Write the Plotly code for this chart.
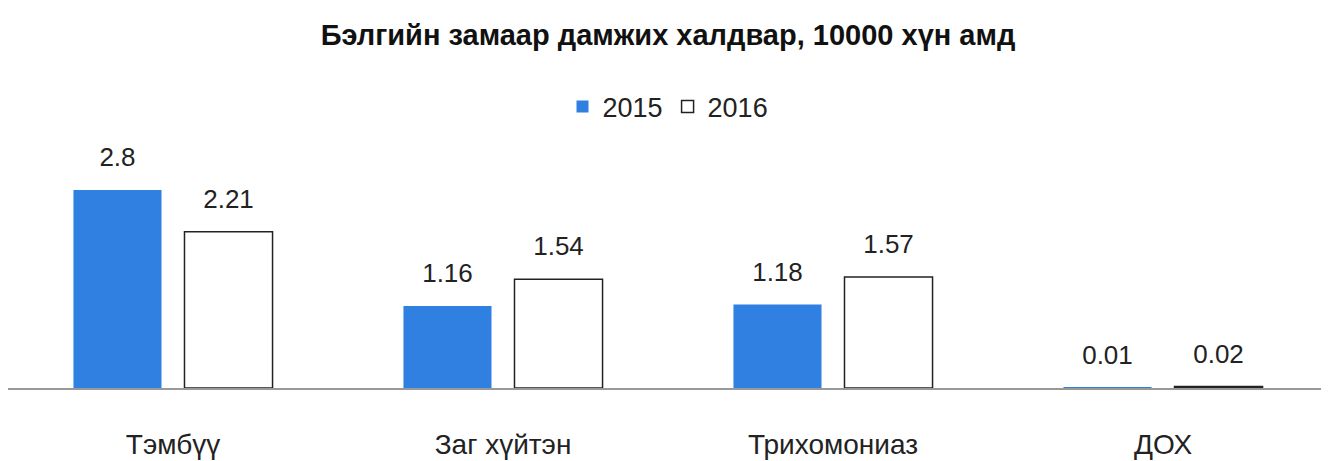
import plotly.graph_objects as go

categories = ["Тэмбүү", "Заг хүйтэн", "Трихомониаз", "ДОХ"]
years = ["2015", "2016"]
values_2015 = [2.8, 1.16, 1.18, 0.01]
values_2016 = [2.21, 1.54, 1.57, 0.02]

font_family = "Liberation Sans, Arial, sans-serif"

fig = go.Figure()
fig.add_trace(
    go.Bar(
        x=categories,
        y=values_2015,
        name=years[0],
        marker=dict(color="#2F80E0", line=dict(color="#2F80E0", width=0)),
    )
)
fig.add_trace(
    go.Bar(
        x=categories,
        y=values_2016,
        name=years[1],
        marker=dict(color="white", line=dict(color="#222222", width=1.5)),
    )
)

# value labels: grouped scatter text so they sit over their bars with a gap
for vals in (values_2015, values_2016):
    fig.add_trace(
        go.Scatter(
            x=categories,
            y=vals,
            mode="markers+text",
            text=[f"{v:g}" for v in vals],
            textposition="top center",
            textfont=dict(size=26, color="#222222", family=font_family),
            marker=dict(size=26, color="rgba(0,0,0,0)"),
            showlegend=False,
            hoverinfo="skip",
            cliponaxis=False,
        )
    )

fig.update_xaxes(
    showline=True,
    linecolor="#999999",
    linewidth=2,
    ticks="",
    automargin=False,
    ticklabelstandoff=30,
    tickfont=dict(size=28, color="#222222"),
)
fig.update_yaxes(visible=False, range=[0, 3.65], automargin=False)
fig.update_layout(
    width=1329,
    height=461,
    barmode="group",
    bargap=0.327,
    bargroupgap=0.207,
    scattermode="group",
    scattergap=0.327,
    plot_bgcolor="white",
    paper_bgcolor="white",
    font=dict(family=font_family, color="#222222"),
    margin=dict(l=0, r=9, t=122, b=81, autoexpand=False),
    title=dict(
        text="<b>Бэлгийн замаар дамжих халдвар, 10000 хүн амд</b>",
        x=0.5,
        xanchor="center",
        xref="paper",
        y=0.941,
        yanchor="middle",
        font=dict(size=29, color="#111111"),
    ),
    legend=dict(
        orientation="h",
        x=0.5,
        xanchor="center",
        y=1.089,
        yanchor="middle",
        font=dict(size=27),
        itemwidth=30,
        traceorder="normal",
    ),
    showlegend=True,
)

fig.write_html("out.html")
